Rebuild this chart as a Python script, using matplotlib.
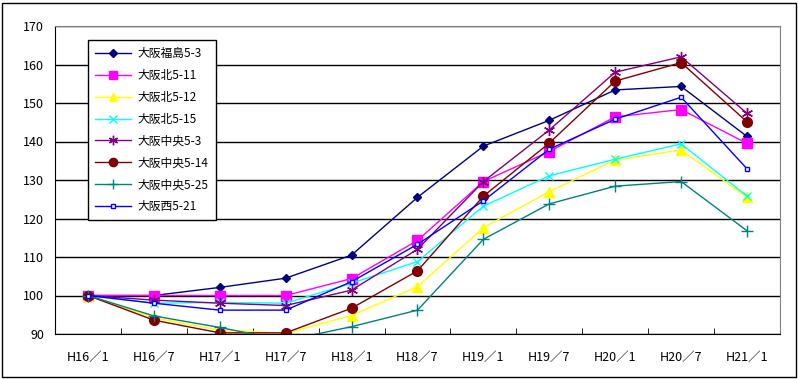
import matplotlib.pyplot as plt
from matplotlib.patches import Rectangle

plt.rcParams['font.family'] = ['Noto Sans CJK JP', 'DejaVu Sans']

# data
periods = ['H16／1', 'H16／7', 'H17／1', 'H17／7', 'H18／1', 'H18／7',
           'H19／1', 'H19／7', 'H20／1', 'H20／7', 'H21／1']

fukushima_5_3 = [100, 100, 102.1, 104.5, 110.5, 125.5, 138.8, 145.5, 153.4, 154.3, 141.3]
kita_5_11 = [100, 100, 100, 100, 104.4, 114.3, 129.6, 137.4, 146.4, 148.3, 139.5]
kita_5_12 = [100, 94.2, 91.0, 90.2, 94.8, 102.3, 117.6, 127.0, 135.2, 137.8, 125.5]
kita_5_15 = [100, 98.0, 98.2, 98.0, 103.2, 108.8, 123.2, 131.1, 135.4, 139.4, 125.8]
chuo_5_3 = [100, 98.8, 98.0, 97.4, 101.4, 112.0, 129.6, 143.0, 158.0, 162.0, 147.3]
chuo_5_14 = [100, 93.6, 90.3, 90.3, 96.7, 106.4, 125.8, 139.6, 155.7, 160.5, 145.1]
chuo_5_25 = [100, 94.7, 91.7, 88.3, 91.9, 96.2, 114.6, 123.8, 128.4, 129.6, 116.8]
nishi_5_21 = [100, 98.0, 96.2, 96.2, 103.6, 113.3, 124.6, 138.0, 145.8, 151.5, 132.9]

series = [
    ('大阪福島5-3', fukushima_5_3, '#000080', 'D', 4.5, '#000080'),
    ('大阪北5-11', kita_5_11, '#FF00FF', 's', 7, '#FF00FF'),
    ('大阪北5-12', kita_5_12, '#FFFF00', '^', 7, '#FFFF00'),
    ('大阪北5-15', kita_5_15, '#00FFFF', 'x', 6, '#00FFFF'),
    ('大阪中央5-3', chuo_5_3, '#800080', (6, 2, 0), 8, '#800080'),
    ('大阪中央5-14', chuo_5_14, '#800000', 'o', 7, '#800000'),
    ('大阪中央5-25', chuo_5_25, '#008080', '+', 8, '#008080'),
    ('大阪西5-21', nishi_5_21, '#0000FF', 's', 3, 'white'),
]

fig = plt.figure(figsize=(7.98, 3.79), dpi=100)
ax = fig.add_axes([55 / 798, 1 - 334 / 379, 725 / 798, 308 / 379])

x = range(len(periods))
for label, vals, col, mk, ms, mfc in series:
    ax.plot(x, vals, color=col, lw=1, marker=mk, markersize=ms,
            markerfacecolor=mfc, markeredgecolor=col, markeredgewidth=1, label=label)

ax.set_xlim(-0.5, len(periods) - 0.5)
ax.set_ylim(90, 170)
ax.set_yticks(range(90, 171, 10))
ax.set_xticks(list(x))
ax.set_xticklabels(periods, fontsize=9)
ax.set_xticks([i + 0.5 for i in range(len(periods) - 1)], minor=True)
ax.tick_params(axis='x', which='major', length=0, pad=12)
ax.tick_params(axis='x', which='minor', direction='in', length=4, color='black')
ax.tick_params(axis='y', length=0, labelsize=9, pad=8)
ax.yaxis.grid(True, color='black', lw=1)
ax.set_axisbelow(True)

for s in ['left', 'bottom']:
    ax.spines[s].set_color('black')
for s in ['top', 'right']:
    ax.spines[s].set_color('#808080')

leg = ax.legend(loc='upper left', bbox_to_anchor=(88 / 798, 1 - 40 / 379),
                bbox_transform=fig.transFigure, borderaxespad=0, fontsize=8.5,
                fancybox=False, framealpha=1, edgecolor='black',
                handlelength=3.0, handletextpad=0.6, labelspacing=0.75,
                borderpad=0.6, markerscale=0.85)
leg.get_frame().set_linewidth(1)

fig.patches.append(Rectangle((2 / 798, 2 / 379), 794 / 798, 374 / 379,
                             transform=fig.transFigure, fill=False,
                             edgecolor='black', lw=1))

fig.savefig('out.png', dpi=100)
